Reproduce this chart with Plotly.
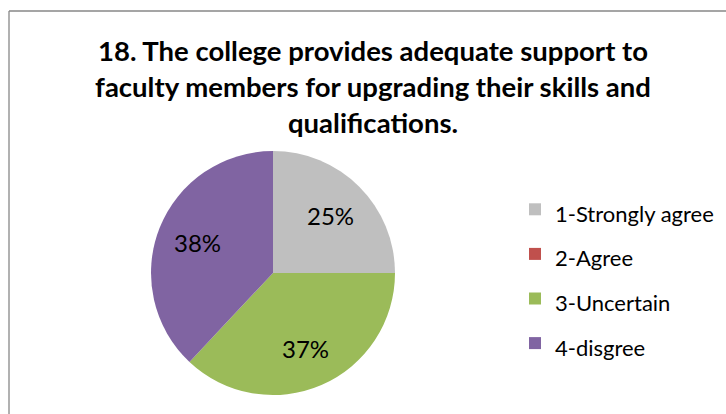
import math
import plotly.graph_objects as go

# Survey responses for question 18
categories = ["1-Strongly agree", "2-Agree", "3-Uncertain", "4-disgree"]
shares = [25, 0, 37, 38]
colors = ["#BFBFBF", "#C0504D", "#9BBB59", "#8064A2"]

title_text = ("18. The college provides adequate support to<br>"
              "faculty members for upgrading their skills and<br>"
              "qualifications.")

W, H = 726, 414
FONT = "Lato, 'Open Sans', sans-serif"

# pie geometry in pixels (centre and radius)
CX, CY, R = 273, 273, 122

# legend labels: a large legend font sets the row pitch, the span keeps the text small
legend_labels = ['<span style="font-size:22px">%s</span>' % c for c in categories]

fig = go.Figure(
    go.Pie(
        labels=legend_labels,
        values=shares,
        marker=dict(colors=colors, line=dict(width=0)),
        sort=False,
        direction="clockwise",
        rotation=0,
        textinfo="none",
        hoverinfo="label+percent",
        domain=dict(x=[(CX - R) / W, (CX + R) / W],
                    y=[(H - CY - R) / H, (H - CY + R) / H]),
    )
)

# percentage labels placed at each slice's mid-angle, two thirds of the way out
annotations = []
total = sum(shares)
cum = 0.0
for v in shares:
    if v > 0:
        mid = (cum + v / 2) / total * 2 * math.pi  # clockwise from 12 o'clock
        px = CX + 0.67 * R * math.sin(mid)
        py = CY - 0.67 * R * math.cos(mid)
        annotations.append(dict(
            x=px / W, y=1 - py / H, xref="paper", yref="paper",
            text="%d%%" % round(100 * v / total), showarrow=False,
            xanchor="center", yanchor="middle",
            font=dict(family=FONT, size=24, color="#000000"),
        ))
    cum += v

fig.update_layout(
    width=W,
    height=H,
    margin=dict(l=0, r=0, t=0, b=0),
    paper_bgcolor="white",
    plot_bgcolor="white",
    title=dict(
        text=title_text,
        x=373 / W,
        xanchor="center",
        y=1 - 61 / H,
        yanchor="top",
        font=dict(family=FONT, size=27.5, color="#000000", weight="bold"),
    ),
    legend=dict(
        x=515 / W,
        xanchor="left",
        y=1 - 182 / H,
        yanchor="top",
        font=dict(family=FONT, size=32, color="#000000"),
        bgcolor="rgba(0,0,0,0)",
        itemclick=False,
    ),
    annotations=annotations,
    shapes=[
        dict(type="line", xref="paper", yref="paper",
             x0=9 / W, x1=9 / W, y0=0, y1=1 - 11 / H,
             line=dict(color="#878787", width=1.3)),
        dict(type="line", xref="paper", yref="paper",
             x0=9 / W, x1=1, y0=1 - 11 / H, y1=1 - 11 / H,
             line=dict(color="#878787", width=1.3)),
    ],
)

fig.write_html("out.html")
